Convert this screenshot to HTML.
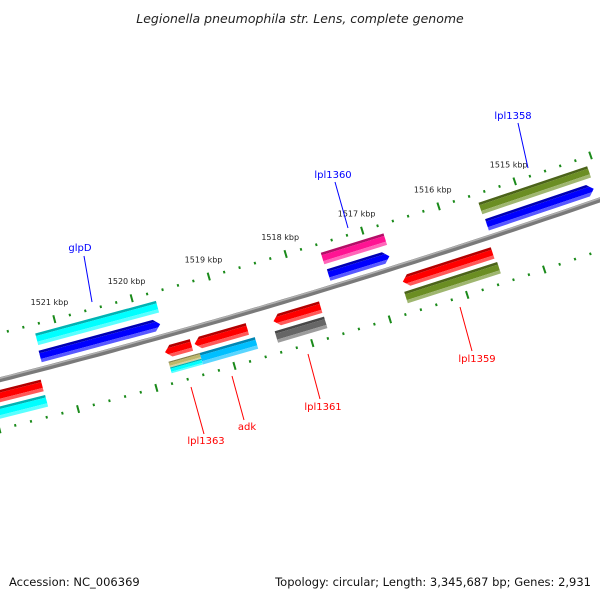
<!DOCTYPE html>
<html><head><meta charset="utf-8"><style>
html,body{margin:0;padding:0;background:#fff}
svg{display:block}
text{font-family:"DejaVu Sans","Liberation Sans",sans-serif}
</style></head><body>
<svg id="map" width="600" height="600" viewBox="0 0 600 600" xmlns="http://www.w3.org/2000/svg">
<rect width="600" height="600" fill="#fff"/>
<text x="300" y="23" text-anchor="middle" font-size="12.5" font-style="italic" fill="#222">Legionella pneumophila str. Lens, complete genome</text>
<g id="ticks"></g>
<g id="backbone"></g>
<g id="feats"></g>
<g id="labels"></g>
<text x="9" y="586" font-size="11.5" fill="#111">Accession: NC_006369</text>
<text x="591" y="586" text-anchor="end" font-size="11.5" fill="#111">Topology: circular; Length: 3,345,687 bp; Genes: 2,931</text>
</svg>
<script>
// data (bp)
const tickStart = 1513000, tickEnd = 1523400, tickStep = 200;
const tickLabelKbp = [1515,1516,1517,1518,1519,1520,1521];
const fwdNear = [[1519744,1521289,'lo','#0000ff'],[1516772,1517563,'lo','#0000ff'],[1514098,1515499,'lo','#0000ff']];
const fwdFar = [[1519718,1521276,'','#00ffff'],[1516758,1517576,'','#ff1493'],[1514084,1515513,'','#6b8e23']];
const revNear = [[1521355,1522700,'','#ff0000'],[1519440,1519780,'hi','#ff0000'],[1518720,1519400,'hi','#ff0000'],[1517773,1518383,'hi','#ff0000'],[1515541,1516709,'hi','#ff0000']];
const revFar = [[1521350,1522700,'','#00ffff'],[1518660,1519370,'','#00bfff'],[1517768,1518404,'','#666666'],[1515523,1516730,'','#6b8e23']];
const revFarSplitTop = [[1519370,1519770,'','#bdb76b']];
const revFarSplitBot = [[1519370,1519770,'','#00ffff']];
const labelNames = ['glpD','lpl1360','lpl1358','adk','lpl1363','lpl1361','lpl1359'];
const labelColors = ['#0000ff','#0000ff','#0000ff','#ff0000','#ff0000','#ff0000','#ff0000'];

// geometry
const CX=-1824, CY=-6793, R=7401, A0=1.26903, K=0.01089/1000, BP0=1517000;
const NS='http://www.w3.org/2000/svg';
function P(bp,v){const f=A0+(bp-BP0)*K, r=R+v;return [CX+r*Math.cos(f), CY+r*Math.sin(f)];}
function mk(tag,attrs,parent){const e=document.createElementNS(NS,tag);for(const k in attrs)e.setAttribute(k,attrs[k]);parent.appendChild(e);return e;}
function mix(hex,t,w){const n=parseInt(hex.slice(1),16);let r=n>>16,g=(n>>8)&255,b=n&255;const c=w?255:0;r=Math.round(r+(c-r)*t);g=Math.round(g+(c-g)*t);b=Math.round(b+(c-b)*t);return `rgb(${r},${g},${b})`;}

// backbone
const bb=document.getElementById('backbone');
let d='';for(let b=1512000;b<=1524000;b+=100){const p=P(b,0);d+=(d?'L':'M')+p[0].toFixed(1)+','+p[1].toFixed(1);}
let e=mk('path',{d:d,fill:'none',stroke:'#7a7a7a','stroke-width':5},bb);


d='';for(let b=1512000;b<=1524000;b+=100){const p=P(b,-1.5);d+=(d?'L':'M')+p[0].toFixed(1)+','+p[1].toFixed(1);}
e=mk('path',{d:d,fill:'none',stroke:'#b0b0b0','stroke-width':1.5},bb);



// ticks
const tg=document.getElementById('ticks');
for(let b=tickStart;b<=tickEnd;b+=tickStep){
  const major=b%1000===0;
  [[-45,-1],[48,1]].forEach(([v])=>{
    const L=major?4:1.3;
    const a=P(b,v-L),c=P(b,v+L);
    const t=mk('line',{x1:a[0],y1:a[1],x2:c[0],y2:c[1],stroke:'#1a8a1a','stroke-width':2},tg);
    
    
  });
}
tickLabelKbp.forEach(k=>{
  const p=P(k*1000,-64);
  const t=mk('text',{x:p[0],y:p[1]+4,'text-anchor':'middle','font-size':8,fill:'#222'},tg);
  t.textContent=k+' kbp';
  
  
});

// features
const fg=document.getElementById('feats');
const AH=75;
function bandPoly(lo,hi,arrow,vmin,vmax,v1,v2){
  const vc=(vmin+vmax)/2, half=(vmax-vmin)/2;
  const vs=[v1];if(vc>v1&&vc<v2)vs.push(vc);vs.push(v2);
  const tip=v=>AH*(1-Math.abs(v-vc)/half);
  const off=v=>AH-tip(v);
  const pts=[];
  vs.forEach(v=>{const b=lo+(arrow==='lo'?(AH*Math.abs(v-vc)/half):0);pts.push(P(b,v));});
  vs.slice().reverse().forEach(v=>{const b=hi-(arrow==='hi'?(AH*Math.abs(v-vc)/half):0);pts.push(P(b,v));});
  return pts.map(p=>p[0].toFixed(1)+','+p[1].toFixed(1)).join(' ');
}
function drawRow(arr,vmin,vmax,name){
  arr.forEach(f=>{
    const [lo,hi,arrow,col]=f;
    const g=mk('g',{},fg);
    
    
    const h=vmax-vmin;
    mk('polygon',{points:bandPoly(lo,hi,arrow,vmin,vmax,vmin,vmin+h*0.22),fill:mix(col,0.3,false)},g);
    mk('polygon',{points:bandPoly(lo,hi,arrow,vmin,vmax,vmin+h*0.22,vmin+h*0.72),fill:col},g);
    mk('polygon',{points:bandPoly(lo,hi,arrow,vmin,vmax,vmin+h*0.72,vmax),fill:mix(col,0.35,true)},g);
  });
}
drawRow(fwdFar,-36,-24,'forward-gene-outer');
drawRow(fwdNear,-18.5,-6.5,'forward-gene');
drawRow(revNear,10,22,'reverse-gene');
drawRow(revFar,26,38,'reverse-gene-outer');
drawRow(revFarSplitTop,26,32,'reverse-gene-outer-split');
drawRow(revFarSplitBot,32,38,'reverse-gene-outer-split');

// labels
const lg=document.getElementById('labels');
const lbl=[[80,251,84,256,92,302],[333,178,335,182,348,228],[513,119,518,123,528,168],[247,430,232,376,244,420],[206,444,191,387,204,434],[323,410,308,354,320,399],[477,362,460,307,472,351]];
lbl.forEach((L,i)=>{
  const ln=mk('line',{x1:L[2],y1:L[3],x2:L[4],y2:L[5],stroke:labelColors[i],'stroke-width':1},lg);
  
  
  const t=mk('text',{x:L[0],y:L[1],'text-anchor':'middle','font-size':10,fill:labelColors[i]},lg);
  t.textContent=labelNames[i];
  
  
});
</script>
</body></html>
